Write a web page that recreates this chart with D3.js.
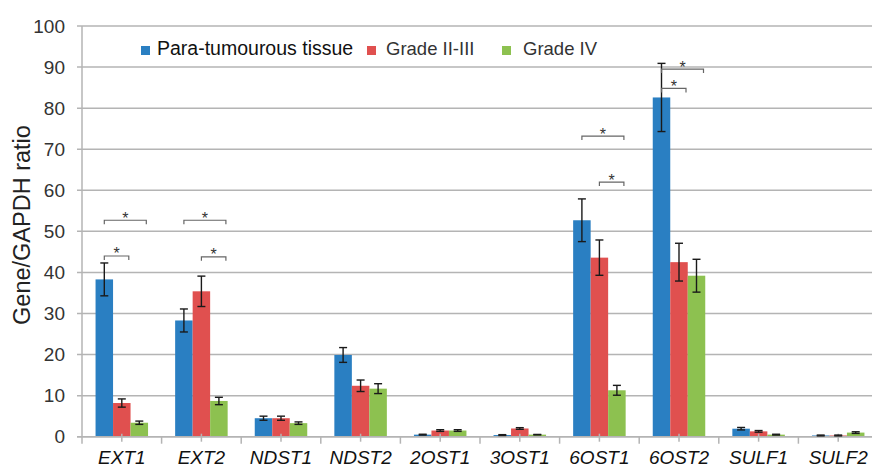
<!DOCTYPE html>
<html><head><meta charset="utf-8">
<script src="https://cdn.jsdelivr.net/npm/d3@7"></script>
<style>body{margin:0;background:#fff}svg{display:block}</style>
</head><body>
<svg id="c" width="872" height="468"></svg>
<script>
const categories = ["EXT1","EXT2","NDST1","NDST2","2OST1","3OST1","6OST1","6OST2","SULF1","SULF2"];
const seriesNames = ["Para-tumourous tissue","Grade II-III","Grade IV"];
const paraValues = [38.3, 28.3, 4.5, 19.9, 0.5, 0.4, 52.7, 82.6, 1.95, 0.3];
const paraErrors = [4.0, 2.8, 0.5, 1.8, 0.1, 0.1, 5.2, 8.3, 0.3, 0.1];
const grade23Values = [8.2, 35.4, 4.5, 12.4, 1.5, 2.0, 43.6, 42.5, 1.3, 0.3];
const grade23Errors = [1.0, 3.7, 0.5, 1.4, 0.2, 0.2, 4.3, 4.6, 0.2, 0.1];
const grade4Values = [3.4, 8.7, 3.3, 11.7, 1.5, 0.5, 11.3, 39.2, 0.5, 1.0];
const grade4Errors = [0.4, 0.9, 0.3, 1.2, 0.2, 0.05, 1.2, 4.0, 0.1, 0.2];
const yTicks = [0,10,20,30,40,50,60,70,80,90,100];
// significance brackets: category, from series, to series, height (data units)
const brackets = [
  ["EXT1",0,2,52.7],["EXT1",0,1,44.0],
  ["EXT2",0,2,52.7],["EXT2",1,2,43.8],
  ["6OST1",0,2,73.2],["6OST1",1,2,62.0],
  ["6OST2",0,2,89.5],["6OST2",0,1,84.8]
];
const colors = ["#2a7fc2","#e0504f","#8dc150"];

const values = [paraValues, grade23Values, grade4Values];
const errors = [paraErrors, grade23Errors, grade4Errors];

const svg = d3.select("#c");
const mLeft = 82, mRight = 878, mTop = 26, mBottom = 436.7;
const x0 = d3.scaleBand().domain(categories).range([mLeft, mRight]).padding(0);
const groupW = 52.5;
const x1 = d3.scaleBand().domain([0,1,2]).range([-groupW/2, groupW/2]).padding(0);
const y = d3.scaleLinear().domain([0,100]).range([mBottom, mTop]);
const font = "'Liberation Sans', Arial, sans-serif";

// gridlines
svg.append("g").selectAll("line").data(yTicks).join("line")
  .attr("x1", mLeft-5).attr("x2", mRight).attr("y1", d=>y(d)).attr("y2", d=>y(d))
  .attr("stroke", "#b4b4b4").attr("stroke-width", 1.5);

// y axis line
svg.append("line").attr("x1", mLeft).attr("x2", mLeft).attr("y1", mTop).attr("y2", mBottom)
  .attr("stroke", "#b4b4b4").attr("stroke-width", 1.5);

// y tick labels
svg.append("g").selectAll("text").data(yTicks).join("text")
  .attr("x", 65).attr("y", d=>y(d)).attr("dy", "0.35em")
  .attr("text-anchor", "end").attr("font-family", font).attr("font-size", 19)
  .attr("fill", "#333").text(d=>d);

// y title
svg.append("text").attr("transform", `translate(29.5,225) rotate(-90)`)
  .attr("text-anchor", "middle").attr("font-family", font).attr("font-size", 23.5)
  .attr("fill", "#222").text("Gene/GAPDH ratio");

// bars
const g = svg.append("g");
categories.forEach((c, ci) => {
  const cx = x0(c) + x0.bandwidth()/2;
  values.forEach((vals, si) => {
    const bx = cx + x1(si);
    g.append("rect").attr("x", bx).attr("width", x1.bandwidth())
      .attr("y", y(vals[ci])).attr("height", y(0) - y(vals[ci]))
      .attr("fill", colors[si]);
  });
});

// x axis line and ticks
svg.append("line").attr("x1", mLeft-5).attr("x2", mRight).attr("y1", mBottom).attr("y2", mBottom)
  .attr("stroke", "#b4b4b4").attr("stroke-width", 1.5);
const bounds = categories.map(c => x0(c)).concat([mRight]);
svg.append("g").selectAll("line").data(bounds).join("line")
  .attr("x1", d=>d).attr("x2", d=>d).attr("y1", mBottom).attr("y2", mBottom+7)
  .attr("stroke", "#b4b4b4").attr("stroke-width", 1.5);
svg.append("g").selectAll("line").data(categories).join("line")
  .attr("x1", d=>x0(d)+x0.bandwidth()/2).attr("x2", d=>x0(d)+x0.bandwidth()/2)
  .attr("y1", mBottom-3).attr("y2", mBottom+5)
  .attr("stroke", "#b4b4b4").attr("stroke-width", 1.5);

// error bars
categories.forEach((c, ci) => {
  const cx = x0(c) + x0.bandwidth()/2;
  values.forEach((vals, si) => {
    const mx = cx + x1(si) + x1.bandwidth()/2;
    const hi = y(vals[ci] + errors[si][ci]), lo = y(Math.max(0, vals[ci] - errors[si][ci]));
    const e = svg.append("g").attr("stroke", "#1a1a1a").attr("stroke-width", 1.4);
    e.append("line").attr("x1", mx).attr("x2", mx).attr("y1", hi).attr("y2", lo);
    e.append("line").attr("x1", mx-4).attr("x2", mx+4).attr("y1", hi).attr("y2", hi);
    e.append("line").attr("x1", mx-4).attr("x2", mx+4).attr("y1", lo).attr("y2", lo);
  });
});

// x labels
svg.append("g").selectAll("text").data(categories).join("text")
  .attr("x", d=>x0(d)+x0.bandwidth()/2).attr("y", 463.5)
  .attr("text-anchor", "middle").attr("font-family", font).attr("font-size", 19)
  .attr("font-style", "italic").attr("fill", "#111").text(d=>d);

// brackets
brackets.forEach(([c, a, b, h]) => {
  const cx = x0(c) + x0.bandwidth()/2;
  const xa = cx + x1(a) + x1.bandwidth()/2;
  const xb = cx + x1(b) + x1.bandwidth()/2 + 7;
  const yy = y(h);
  svg.append("path").attr("d", `M${xa},${yy+4}V${yy}H${xb}V${yy+4}`)
    .attr("fill", "none").attr("stroke", "#666").attr("stroke-width", 1.2);
  svg.append("text").attr("x", (xa+xb)/2).attr("y", yy+3.5)
    .attr("text-anchor", "middle").attr("font-family", font).attr("font-size", 16)
    .attr("fill", "#333").text("*");
});

// legend
const legendItems = [
  {x: 141, tx: 157, name: seriesNames[0], fs: 19.5},
  {x: 367, tx: 386, name: seriesNames[1], fs: 18.5},
  {x: 502, tx: 523, name: seriesNames[2], fs: 18.5}
];
legendItems.forEach((it, i) => {
  svg.append("rect").attr("x", it.x).attr("y", 46).attr("width", 9).attr("height", 9).attr("fill", colors[i]);
  svg.append("text").attr("x", it.tx).attr("y", 55).attr("font-family", font)
    .attr("font-size", it.fs).attr("fill", i===0 ? "#111" : "#333").text(it.name);
});
</script>
</body></html>
